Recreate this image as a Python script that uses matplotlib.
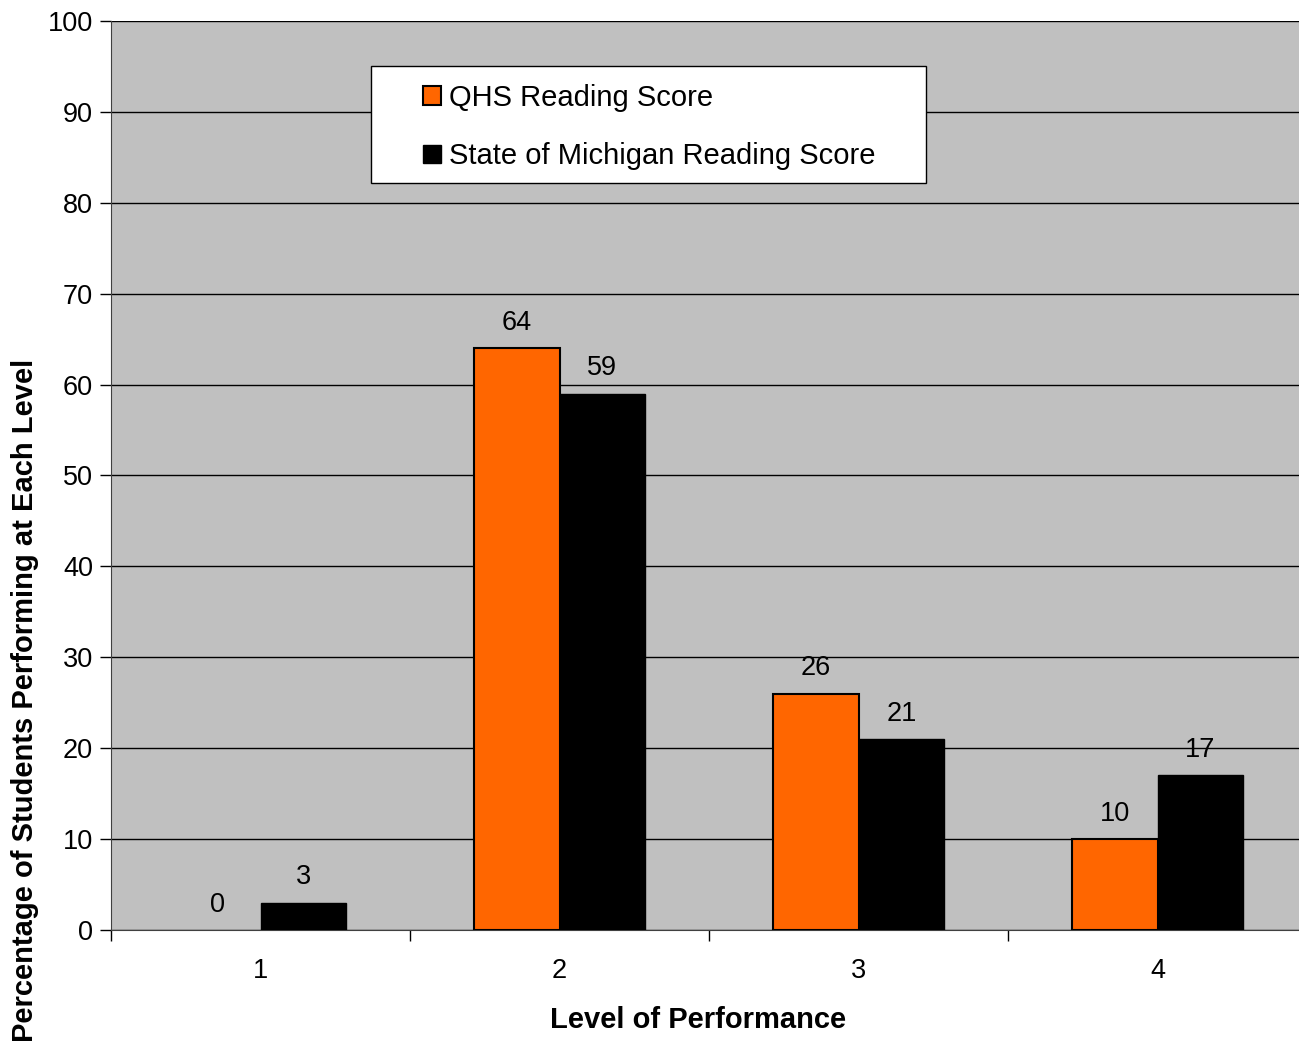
import numpy as np
from matplotlib import pyplot as plt
from matplotlib.patches import Rectangle, Patch

plt.rcParams['font.family'] = ['Liberation Sans', 'DejaVu Sans']

levels = ['1', '2', '3', '4']
qhs = [0, 64, 26, 10]
state = [3, 59, 21, 17]

fig = plt.figure(figsize=(12.99, 10.45), dpi=100)
ax = fig.add_axes([0.0855, 0.110, 0.9207, 0.870])
ax.set_facecolor('#C0C0C0')

x = np.arange(len(levels))
w = 0.287
b1 = ax.bar(x - w/2, qhs, w, color='#FF6600', edgecolor='black', linewidth=1.5,
            zorder=3)
b2 = ax.bar(x + w/2, state, w, color='black', edgecolor='black', linewidth=1,
            zorder=3)

for bars in (b1, b2):
    for r in bars:
        h = r.get_height()
        if h == 0:
            r.set_linewidth(0)
        ax.annotate('%d' % h, (r.get_x() + r.get_width()/2, h), xytext=(0, 9),
                    textcoords='offset points', ha='center', va='bottom', fontsize=19.5)

ax.set_xlim(-0.5, 3.5)
ax.set_ylim(0, 100)
ax.set_yticks(range(0, 101, 10))
ax.yaxis.grid(True, color='black', linewidth=1)
ax.set_axisbelow(True)
ax.set_xticks(x)
ax.set_xticklabels(levels)
ax.set_xticks(np.arange(-0.5, 3.6, 1), minor=True)
ax.tick_params(axis='x', which='major', length=0, pad=20, labelsize=19.5)
ax.tick_params(axis='x', which='minor', length=8, width=1, direction='out')
ax.tick_params(axis='y', length=8, width=1, labelsize=19.5, pad=5)

for s in ['top', 'right']:
    ax.spines[s].set_visible(False)
ax.spines['left'].set_color('#404040')
ax.spines['bottom'].set_color('#404040')

ax.set_xlabel('Level of Performance', fontsize=21, fontweight='bold')
ax.xaxis.set_label_coords(0.491, -0.084)
ax.set_ylabel('Percentage of Students Performing at Each Level', fontsize=21,
              fontweight='bold')
ax.yaxis.set_label_coords(-0.06, 0.253)

# legend box drawn separately so the entries can sit inset from its left edge
ax.add_patch(Rectangle((0.2174, 0.8218), 0.464, 0.1287, transform=ax.transAxes,
                       facecolor='white', edgecolor='black', linewidth=1, zorder=4))
handles = [Patch(facecolor='#FF6600', edgecolor='black', linewidth=1.5),
           Patch(facecolor='black', edgecolor='black', linewidth=1)]
leg = ax.legend(handles, ['QHS Reading Score', 'State of Michigan Reading Score'],
                loc='center left', bbox_to_anchor=(0.2609, 0.8834), frameon=False,
                fontsize=21, handlelength=0.62, handleheight=0.62, handletextpad=0.28,
                labelspacing=1.05, borderpad=0, borderaxespad=0)
leg.set_zorder(5)

fig.savefig('out.png', dpi=100, facecolor='white')
